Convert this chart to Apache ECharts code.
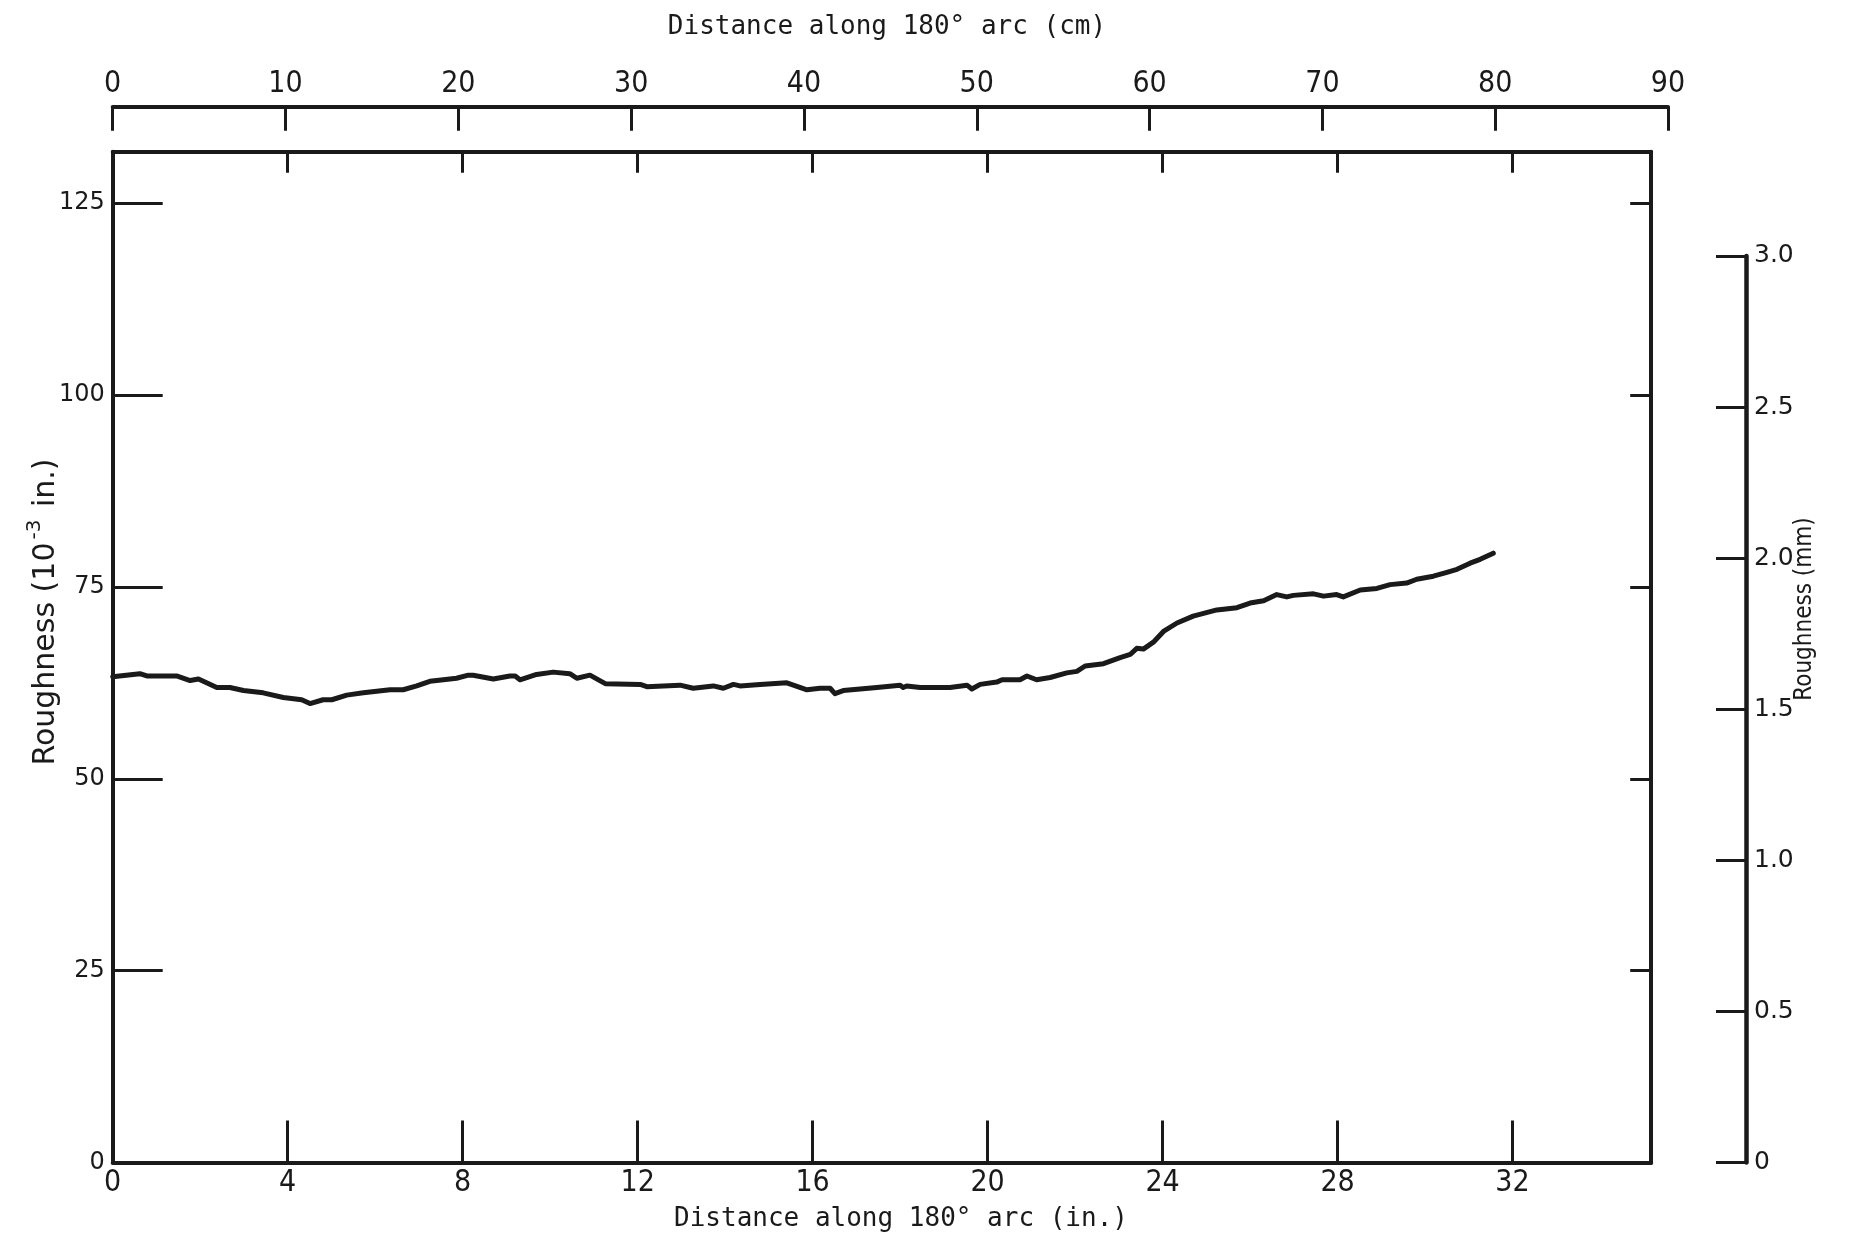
<!DOCTYPE html>
<html>
<head>
<meta charset="utf-8">
<script src="https://cdn.jsdelivr.net/npm/echarts@6/dist/echarts.min.js"></script>
<style>
  html, body { margin: 0; padding: 0; background: #fff; }
  #chart { width: 1860px; height: 1238px; }
</style>
</head>
<body>
<div id="chart"></div>
<script>
// Surface roughness profile along the 180-degree arc (distance in inches, roughness in 10^-3 in.)
const distanceIn = [0.00, 0.62, 0.78, 1.46, 1.77, 1.96, 2.38, 2.68, 2.99, 3.44, 3.90, 4.32, 4.51, 4.81, 5.01,
  5.35, 5.73, 6.34, 6.64, 6.95, 7.25, 7.56, 7.86, 8.13, 8.24, 8.70, 9.08, 9.20, 9.31, 9.69, 10.07, 10.45,
  10.61, 10.91, 11.26, 12.06, 12.21, 12.97, 13.27, 13.73, 13.96, 14.19, 14.34, 14.80, 15.41, 15.56, 15.87,
  16.17, 16.40, 16.51, 16.70, 17.47, 18.00, 18.07, 18.15, 18.46, 19.14, 19.53, 19.64, 19.83, 20.21, 20.33,
  20.74, 20.90, 21.12, 21.43, 21.81, 22.04, 22.23, 22.65, 23.03, 23.26, 23.41, 23.56, 23.79, 24.02, 24.33,
  24.70, 25.24, 25.70, 26.00, 26.31, 26.61, 26.84, 26.99, 27.45, 27.68, 27.98, 28.13, 28.52, 28.90, 29.20,
  29.58, 29.81, 30.19, 30.50, 30.73, 31.03, 31.26, 31.56];
const roughnessMils = [63.3, 63.7, 63.4, 63.4, 62.8, 63.0, 61.9, 61.9, 61.5, 61.2, 60.6, 60.3, 59.8, 60.3, 60.3,
  60.9, 61.2, 61.6, 61.6, 62.1, 62.7, 62.9, 63.1, 63.5, 63.5, 63.0, 63.4, 63.4, 62.9, 63.6, 63.9, 63.7,
  63.1, 63.5, 62.4, 62.3, 62.0, 62.2, 61.8, 62.1, 61.8, 62.3, 62.1, 62.3, 62.5, 62.2, 61.6,
  61.8, 61.8, 61.1, 61.5, 61.9, 62.2, 61.9, 62.1, 61.9, 61.9, 62.2, 61.7, 62.3, 62.6, 62.9,
  62.9, 63.4, 62.9, 63.2, 63.8, 64.0, 64.7, 65.0, 65.8, 66.2, 67.0, 66.9, 67.8, 69.2, 70.3,
  71.2, 72.0, 72.3, 72.9, 73.2, 74.0, 73.7, 73.9, 74.1, 73.8, 74.0, 73.7, 74.6, 74.8, 75.3,
  75.5, 76.0, 76.4, 76.9, 77.3, 78.1, 78.6, 79.4];

// Axis ranges and tick steps
const inchTicks = { min: 0, max: 35.17, step: 4, lastLabel: 32 };
const cmTicks = { min: 0, max: 90, step: 10 };
const milTicks = { min: 0, max: 131.7, step: 25 };
const mmTicks = { min: 0, max: 3.0, step: 0.5 };

// Axis titles
const titleCm = 'Distance along 180\u00b0 arc (cm)';
const titleIn = 'Distance along 180\u00b0 arc (in.)';
const titleMm = 'Roughness (mm)';

const INK = '#1a1a1a';
const NUM_FONT = '"Liberation Sans Narrow", "DejaVu Sans Condensed", sans-serif';
const WIDE_FONT = '"DejaVu Sans", sans-serif';
const MONO_FONT = '"DejaVu Sans Mono", monospace';
const COND_FONT = '"DejaVu Sans Condensed", "DejaVu Sans", sans-serif';

const points = distanceIn.map((d, i) => [d, roughnessMils[i]]);

const chart = echarts.init(document.getElementById('chart'), null, { renderer: 'canvas' });

// Shared line style for the frame and scale lines
const frameLine = (w) => ({ show: true, onZero: false, lineStyle: { color: INK, width: w } });
const tickStyle = (inside, len) => ({ show: true, inside, length: len, lineStyle: { color: INK, width: 3 } });

const option = {
  backgroundColor: '#ffffff',
  animation: false,
  grid: [
    { left: 112.7, top: 151.8, width: 1538.5, height: 1010.7 },   // main plot box
    { left: 112.7, top: 106.8, width: 1555.3, height: 40 },       // cm scale above
    { left: 1746, top: 255.9, width: 40, height: 906.6 }          // mm scale at right
  ],
  xAxis: [
    {
      gridIndex: 0, type: 'value', position: 'bottom',
      min: inchTicks.min, max: inchTicks.max, interval: inchTicks.step,
      axisLine: frameLine(4),
      axisTick: tickStyle(true, 42),
      axisLabel: {
        show: true, margin: 6, color: INK, fontFamily: NUM_FONT, fontSize: 30,
        showMaxLabel: false,
        formatter: v => (v % inchTicks.step === 0 && v <= inchTicks.lastLabel) ? String(v) : ''
      },
      splitLine: { show: false }
    },
    {
      gridIndex: 0, type: 'value', position: 'top',
      min: inchTicks.min, max: inchTicks.max, interval: inchTicks.step,
      axisLine: frameLine(4),
      axisTick: tickStyle(true, 21),
      axisLabel: { show: false },
      splitLine: { show: false }
    },
    {
      gridIndex: 1, type: 'value', position: 'top',
      min: cmTicks.min, max: cmTicks.max, interval: cmTicks.step,
      axisLine: frameLine(4),
      axisTick: tickStyle(true, 24),
      axisLabel: { show: true, margin: 8, color: INK, fontFamily: NUM_FONT, fontSize: 30 },
      splitLine: { show: false }
    },
    { gridIndex: 2, type: 'value', show: false }
  ],
  yAxis: [
    {
      gridIndex: 0, type: 'value', position: 'left',
      min: milTicks.min, max: milTicks.max, interval: milTicks.step,
      axisLine: frameLine(4),
      axisTick: tickStyle(true, 50),
      axisLabel: {
        show: true, margin: 8, color: INK, fontFamily: WIDE_FONT, fontSize: 24,
        showMaxLabel: false,
        formatter: v => (v % milTicks.step === 0) ? String(v) : ''
      },
      splitLine: { show: false }
    },
    {
      gridIndex: 0, type: 'value', position: 'right',
      min: milTicks.min, max: milTicks.max, interval: milTicks.step,
      axisLine: frameLine(4),
      axisTick: tickStyle(true, 21),
      axisLabel: { show: false },
      splitLine: { show: false }
    },
    { gridIndex: 1, type: 'value', show: false },
    {
      gridIndex: 2, type: 'value', position: 'left',
      min: mmTicks.min, max: mmTicks.max, interval: mmTicks.step,
      axisLine: frameLine(4.5),
      axisTick: tickStyle(false, 30),
      axisLabel: {
        show: true, inside: true, margin: 8, color: INK, fontFamily: WIDE_FONT, fontSize: 25,
        formatter: v => v === 0 ? '0' : v.toFixed(1)
      },
      splitLine: { show: false }
    }
  ],
  series: [
    {
      type: 'line',
      xAxisIndex: 0, yAxisIndex: 0,
      data: points,
      showSymbol: false,
      smooth: false,
      lineStyle: { color: INK, width: 5, join: 'round', cap: 'round' }
    }
  ],
  graphic: [
    {
      type: 'text', x: 887, y: 27,
      style: { text: titleCm, font: '26px ' + MONO_FONT, fill: INK, align: 'center', verticalAlign: 'middle' }
    },
    {
      type: 'text', x: 901, y: 1219,
      style: { text: titleIn, font: '26px ' + MONO_FONT, fill: INK, align: 'center', verticalAlign: 'middle' }
    },
    {
      type: 'text', x: 43, y: 612, rotation: Math.PI / 2,
      style: {
        text: '{a|Roughness (10}{s|-3}{a| in.)}',
        fill: INK, align: 'center', verticalAlign: 'middle',
        rich: {
          a: { fontFamily: WIDE_FONT, fontSize: 30, lineHeight: 36, verticalAlign: 'bottom', fill: INK },
          s: { fontFamily: WIDE_FONT, fontSize: 20, lineHeight: 20, verticalAlign: 'top', fill: INK, padding: [0, 3, 0, 3] }
        }
      }
    },
    {
      type: 'text', x: 1805, y: 609, rotation: Math.PI / 2,
      style: { text: titleMm, font: '24px ' + COND_FONT, fill: INK, align: 'center', verticalAlign: 'middle' }
    }
  ]
};

chart.setOption(option);
</script>
</body>
</html>
